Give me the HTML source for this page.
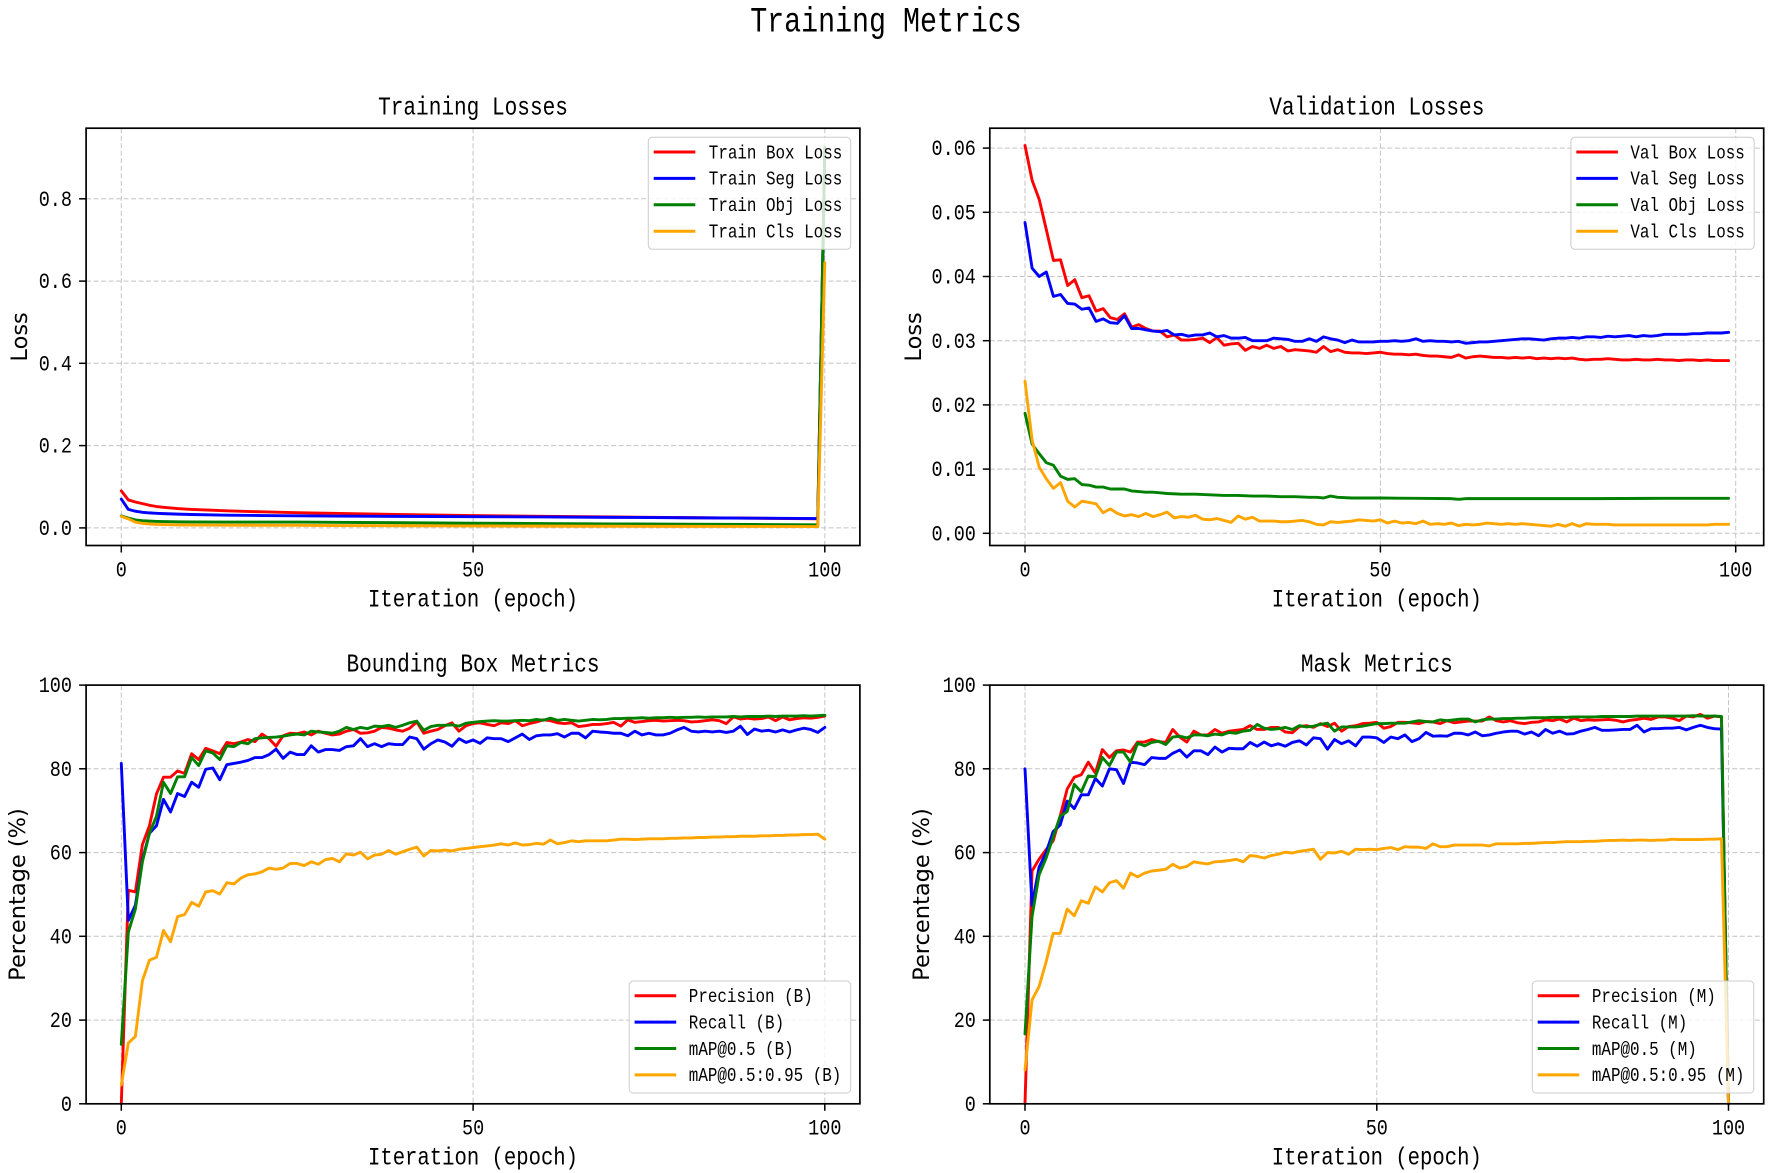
<!DOCTYPE html>
<html><head><meta charset="utf-8"><style>
html,body{margin:0;padding:0;background:#fff;}
svg{display:block;}
.m{font-family:"Liberation Mono","DejaVu Sans Mono",monospace;fill:#000;}
.s{font-family:"DejaVu Sans","Liberation Sans",sans-serif;fill:#000;}
.g{stroke:#c4c4c4;stroke-width:1;stroke-dasharray:5,2.5;fill:none;}
.sp{fill:none;stroke:#000;stroke-width:1.7;}
.tk{stroke:#000;stroke-width:1.5;}
.l{fill:none;stroke-width:2.9;stroke-linejoin:round;stroke-linecap:round;vector-effect:non-scaling-stroke;}
.lg{fill:#fff;fill-opacity:0.8;stroke:#cccccc;stroke-width:1;}
.ll{stroke-width:3;}
</style></head><body>
<svg width="1772" height="1173" viewBox="0 0 1772 1173" xmlns="http://www.w3.org/2000/svg">
<rect width="1772" height="1173" fill="#fff"/>

<text class="m" font-size="28.3" text-anchor="middle" transform="translate(886,31.7) scale(1,1.25)">Training Metrics</text>

<!-- TOP LEFT -->
<g>
<line class="g" x1="121.3" y1="128.2" x2="121.3" y2="545.5"/>
<line class="g" x1="473.1" y1="128.2" x2="473.1" y2="545.5"/>
<line class="g" x1="824.8" y1="128.2" x2="824.8" y2="545.5"/>
<line class="g" x1="86.1" y1="527.9" x2="859.9" y2="527.9"/>
<line class="g" x1="86.1" y1="445.6" x2="859.9" y2="445.6"/>
<line class="g" x1="86.1" y1="363.3" x2="859.9" y2="363.3"/>
<line class="g" x1="86.1" y1="281.1" x2="859.9" y2="281.1"/>
<line class="g" x1="86.1" y1="198.8" x2="859.9" y2="198.8"/>
<g transform="matrix(7.035 0 0 -0.4114 121.3 527.9)">
<polyline class="l" stroke="#ff0000" points="0,90 1,68 2,63 3,59 4,55 5,52 6,50 8,47 10,45 15,41.5 20,39 25,37 30,35.5 40,32.5 50,30 60,28 70,26.5 80,25 90,23.5 99,22 100,915"/>
<polyline class="l" stroke="#0000ff" points="0,70 1,45 2,40.5 3,38 4,36.5 5,35.5 6,34.7 8,33.5 10,32.6 15,31 20,30 25,29.3 30,28.8 40,28 50,27.3 60,26.6 70,25.6 80,24.7 90,23.7 99,22.8 100,915"/>
<polyline class="l" stroke="#008000" points="0,29 1,24 2,19.5 3,17.5 4,16.5 5,15.8 6,15.3 8,14.8 10,14.5 15,14.3 20,14.2 25,14.1 30,13.5 40,12.5 50,11.5 60,10.5 70,9.7 80,9 90,8.3 99,7.5 100,925.5"/>
<polyline class="l" stroke="#ffa500" points="0,28 1,22 2,14 3,11 4,9.5 5,8.5 6,8 8,7.3 10,7 15,6.6 20,6.4 25,6.2 30,5.8 40,5.2 50,4.7 60,4.3 70,4 80,3.7 90,3.5 99,3.3 100,645"/>
</g>
<rect class="sp" x="86.1" y="128.2" width="773.8" height="417.3"/>
<line class="tk" x1="121.3" y1="545.5" x2="121.3" y2="552.5"/>
<line class="tk" x1="473.1" y1="545.5" x2="473.1" y2="552.5"/>
<line class="tk" x1="824.8" y1="545.5" x2="824.8" y2="552.5"/>
<line class="tk" x1="79.1" y1="527.9" x2="86.1" y2="527.9"/>
<line class="tk" x1="79.1" y1="445.6" x2="86.1" y2="445.6"/>
<line class="tk" x1="79.1" y1="363.3" x2="86.1" y2="363.3"/>
<line class="tk" x1="79.1" y1="281.1" x2="86.1" y2="281.1"/>
<line class="tk" x1="79.1" y1="198.8" x2="86.1" y2="198.8"/>
<text class="m" font-size="18.5" text-anchor="end" transform="translate(72,535) scale(1,1.18)">0.0</text>
<text class="m" font-size="18.5" text-anchor="end" transform="translate(72,452.7) scale(1,1.18)">0.2</text>
<text class="m" font-size="18.5" text-anchor="end" transform="translate(72,370.4) scale(1,1.18)">0.4</text>
<text class="m" font-size="18.5" text-anchor="end" transform="translate(72,288.2) scale(1,1.18)">0.6</text>
<text class="m" font-size="18.5" text-anchor="end" transform="translate(72,205.9) scale(1,1.18)">0.8</text>
<text class="m" font-size="18.5" text-anchor="middle" transform="translate(121.3,576.7) scale(1,1.18)">0</text>
<text class="m" font-size="18.5" text-anchor="middle" transform="translate(473.1,576.7) scale(1,1.18)">50</text>
<text class="m" font-size="18.5" text-anchor="middle" transform="translate(824.8,576.7) scale(1,1.18)">100</text>
<text class="m" font-size="21.1" text-anchor="middle" transform="translate(473,114.7) scale(1,1.23)">Training Losses</text>
<text class="m" font-size="20.6" text-anchor="middle" transform="translate(473,606.7) scale(1,1.23)">Iteration (epoch)</text>
<text class="s" font-size="22.5" text-anchor="middle" transform="translate(27,336.9) rotate(-90)">Loss</text>
<rect class="lg" x="648.3" y="137.3" width="202.4" height="112" rx="4" ry="4"/>
<line class="ll" stroke="#ff0000" x1="653.7" y1="152" x2="695.3" y2="152"/>
<line class="ll" stroke="#0000ff" x1="653.7" y1="178.4" x2="695.3" y2="178.4"/>
<line class="ll" stroke="#008000" x1="653.7" y1="204.8" x2="695.3" y2="204.8"/>
<line class="ll" stroke="#ffa500" x1="653.7" y1="231.2" x2="695.3" y2="231.2"/>
<text class="m" font-size="15.9" transform="translate(708.8,158.3) scale(1,1.22)">Train Box Loss</text>
<text class="m" font-size="15.9" transform="translate(708.8,184.7) scale(1,1.22)">Train Seg Loss</text>
<text class="m" font-size="15.9" transform="translate(708.8,211.1) scale(1,1.22)">Train Obj Loss</text>
<text class="m" font-size="15.9" transform="translate(708.8,237.5) scale(1,1.22)">Train Cls Loss</text>
</g>

<!-- TOP RIGHT -->
<g>
<line class="g" x1="1025" y1="128.2" x2="1025" y2="545.5"/>
<line class="g" x1="1380.4" y1="128.2" x2="1380.4" y2="545.5"/>
<line class="g" x1="1735.7" y1="128.2" x2="1735.7" y2="545.5"/>
<line class="g" x1="989.8" y1="533.3" x2="1763.7" y2="533.3"/>
<line class="g" x1="989.8" y1="469.1" x2="1763.7" y2="469.1"/>
<line class="g" x1="989.8" y1="404.9" x2="1763.7" y2="404.9"/>
<line class="g" x1="989.8" y1="340.7" x2="1763.7" y2="340.7"/>
<line class="g" x1="989.8" y1="276.5" x2="1763.7" y2="276.5"/>
<line class="g" x1="989.8" y1="212.3" x2="1763.7" y2="212.3"/>
<line class="g" x1="989.8" y1="148.1" x2="1763.7" y2="148.1"/>
<g transform="matrix(7.107 0 0 -6.42 1025 533.3)">
<polyline class="l" stroke="#ff0000" points="0,60.4 1,55 2,52 3,47.3 4,42.5 5,42.6 6,38.6 7,39.5 8,36.7 9,37 10,34.6 11,35 12,33.6 13,33.3 14,34.2 15,32.1 16,32.5 17,31.9 18,31.5 19,31.5 20,30.6 21,30.9 22,30.1 23,30.1 24,30.2 25,30.4 26,29.7 27,30.5 28,29.3 29,29.5 30,29.6 31,28.5 32,29.1 33,28.8 34,29.3 35,28.8 36,29.1 37,28.4 38,28.6 39,28.5 40,28.4 41,28.2 42,29.1 43,28.3 44,28.6 45,28.2 46,28.1 47,28.1 48,28 49,28.1 50,28.2 51,28 52,27.9 53,27.9 54,27.8 55,27.9 56,27.7 57,27.6 58,27.6 59,27.5 60,27.4 61,27.8 62,27.3 63,27.5 64,27.6 65,27.5 66,27.4 67,27.4 68,27.3 69,27.4 70,27.3 71,27.4 72,27.2 73,27.3 74,27.2 75,27.3 76,27.2 77,27.3 78,27.1 79,27 80,27.1 81,27.1 82,27.2 83,27.1 84,27 85,27 86,27.1 87,27 88,27 89,27.1 90,27 91,27 92,26.9 93,27 94,27 95,26.9 96,27 97,26.9 98,26.9 99,26.9"/>
<polyline class="l" stroke="#0000ff" points="0,48.4 1,41.3 2,40 3,40.7 4,36.9 5,37.2 6,35.8 7,35.7 8,34.9 9,35.1 10,33 11,33.4 12,32.8 13,32.7 14,33.9 15,31.9 16,31.9 17,31.7 18,31.5 19,31.4 20,31.6 21,30.9 22,31 23,30.7 24,30.9 25,30.9 26,31.2 27,30.6 28,30.8 29,30.4 30,30.4 31,30.5 32,30 33,30 34,30 35,30.4 36,30.3 37,30.2 38,29.9 39,29.9 40,30.3 41,29.9 42,30.6 43,30.3 44,30.1 45,29.7 46,30.1 47,29.8 48,29.8 49,29.8 50,29.9 51,29.9 52,30 53,29.9 54,30 55,30.3 56,29.9 57,30 58,29.9 59,29.9 60,29.8 61,29.9 62,29.6 63,29.7 64,29.8 65,29.8 66,29.9 67,30 68,30.1 69,30.2 70,30.3 71,30.3 72,30.2 73,30.1 74,30.3 75,30.4 76,30.4 77,30.5 78,30.4 79,30.6 80,30.6 81,30.5 82,30.7 83,30.6 84,30.7 85,30.8 86,30.6 87,30.8 88,30.7 89,30.8 90,31 91,31 92,31 93,31 94,31.1 95,31.1 96,31.2 97,31.2 98,31.2 99,31.3"/>
<polyline class="l" stroke="#008000" points="0,18.7 1,13.9 2,12.4 3,11 4,10.6 5,8.9 6,8.4 7,8.5 8,7.6 9,7.5 10,7.2 11,7.2 12,6.9 13,6.9 14,6.9 15,6.6 16,6.5 17,6.4 18,6.4 19,6.3 20,6.2 22,6.1 24,6.1 26,6 28,5.9 30,5.9 32,5.8 34,5.8 36,5.7 38,5.7 40,5.6 41,5.6 42,5.5 43,5.8 44,5.6 46,5.5 50,5.5 55,5.45 60,5.4 61,5.3 62,5.4 70,5.4 80,5.4 90,5.45 99,5.45"/>
<polyline class="l" stroke="#ffa500" points="0,23.7 1,14.5 2,10.3 3,8.5 4,7 5,7.9 6,5 7,4.1 8,5 9,4.8 10,4.6 11,3.2 12,3.8 13,3.1 14,2.7 15,2.9 16,2.6 17,3.1 18,2.6 19,2.9 20,3.3 21,2.4 22,2.6 23,2.5 24,2.8 25,2.2 26,2.1 27,2.3 28,2 29,1.7 30,2.7 31,2.2 32,2.5 33,1.9 34,1.9 35,1.9 36,1.8 37,1.8 38,1.9 39,2 40,1.8 41,1.4 42,1.3 43,1.8 44,1.7 45,1.8 46,1.9 47,2.1 48,2 49,1.9 50,2.1 51,1.6 52,1.9 53,1.6 54,1.7 55,1.5 56,1.9 57,1.4 58,1.5 59,1.4 60,1.6 61,1.2 62,1.4 63,1.3 64,1.4 65,1.6 66,1.5 67,1.4 68,1.5 69,1.4 70,1.5 71,1.4 72,1.3 73,1.2 74,1.1 75,1.4 76,1.1 77,1.5 78,1.1 79,1.5 80,1.4 81,1.4 82,1.4 83,1.3 84,1.3 85,1.3 86,1.3 87,1.3 88,1.3 89,1.3 90,1.3 91,1.3 92,1.3 93,1.3 94,1.3 95,1.3 96,1.3 97,1.4 98,1.4 99,1.4"/>
</g>
<rect class="sp" x="989.8" y="128.2" width="773.9" height="417.3"/>
<line class="tk" x1="1025" y1="545.5" x2="1025" y2="552.5"/>
<line class="tk" x1="1380.4" y1="545.5" x2="1380.4" y2="552.5"/>
<line class="tk" x1="1735.7" y1="545.5" x2="1735.7" y2="552.5"/>
<line class="tk" x1="982.8" y1="533.3" x2="989.8" y2="533.3"/>
<line class="tk" x1="982.8" y1="469.1" x2="989.8" y2="469.1"/>
<line class="tk" x1="982.8" y1="404.9" x2="989.8" y2="404.9"/>
<line class="tk" x1="982.8" y1="340.7" x2="989.8" y2="340.7"/>
<line class="tk" x1="982.8" y1="276.5" x2="989.8" y2="276.5"/>
<line class="tk" x1="982.8" y1="212.3" x2="989.8" y2="212.3"/>
<line class="tk" x1="982.8" y1="148.1" x2="989.8" y2="148.1"/>
<text class="m" font-size="18.5" text-anchor="end" transform="translate(975.9,540.4) scale(1,1.18)">0.00</text>
<text class="m" font-size="18.5" text-anchor="end" transform="translate(975.9,476.2) scale(1,1.18)">0.01</text>
<text class="m" font-size="18.5" text-anchor="end" transform="translate(975.9,412) scale(1,1.18)">0.02</text>
<text class="m" font-size="18.5" text-anchor="end" transform="translate(975.9,347.8) scale(1,1.18)">0.03</text>
<text class="m" font-size="18.5" text-anchor="end" transform="translate(975.9,283.6) scale(1,1.18)">0.04</text>
<text class="m" font-size="18.5" text-anchor="end" transform="translate(975.9,219.4) scale(1,1.18)">0.05</text>
<text class="m" font-size="18.5" text-anchor="end" transform="translate(975.9,155.2) scale(1,1.18)">0.06</text>
<text class="m" font-size="18.5" text-anchor="middle" transform="translate(1025,576.7) scale(1,1.18)">0</text>
<text class="m" font-size="18.5" text-anchor="middle" transform="translate(1380.4,576.7) scale(1,1.18)">50</text>
<text class="m" font-size="18.5" text-anchor="middle" transform="translate(1735.7,576.7) scale(1,1.18)">100</text>
<text class="m" font-size="21.1" text-anchor="middle" transform="translate(1376.8,114.7) scale(1,1.23)">Validation Losses</text>
<text class="m" font-size="20.6" text-anchor="middle" transform="translate(1376.8,606.7) scale(1,1.23)">Iteration (epoch)</text>
<text class="s" font-size="22.5" text-anchor="middle" transform="translate(921,336.9) rotate(-90)">Loss</text>
<rect class="lg" x="1570.9" y="137.3" width="183.3" height="112" rx="4" ry="4"/>
<line class="ll" stroke="#ff0000" x1="1576.3" y1="152" x2="1617.9" y2="152"/>
<line class="ll" stroke="#0000ff" x1="1576.3" y1="178.4" x2="1617.9" y2="178.4"/>
<line class="ll" stroke="#008000" x1="1576.3" y1="204.8" x2="1617.9" y2="204.8"/>
<line class="ll" stroke="#ffa500" x1="1576.3" y1="231.2" x2="1617.9" y2="231.2"/>
<text class="m" font-size="15.9" transform="translate(1630.4,158.3) scale(1,1.22)">Val Box Loss</text>
<text class="m" font-size="15.9" transform="translate(1630.4,184.7) scale(1,1.22)">Val Seg Loss</text>
<text class="m" font-size="15.9" transform="translate(1630.4,211.1) scale(1,1.22)">Val Obj Loss</text>
<text class="m" font-size="15.9" transform="translate(1630.4,237.5) scale(1,1.22)">Val Cls Loss</text>
</g>

<!-- BOTTOM LEFT -->
<g>
<line class="g" x1="121.3" y1="685.1" x2="121.3" y2="1103.8"/>
<line class="g" x1="473.1" y1="685.1" x2="473.1" y2="1103.8"/>
<line class="g" x1="824.8" y1="685.1" x2="824.8" y2="1103.8"/>
<line class="g" x1="86.1" y1="1020.1" x2="859.9" y2="1020.1"/>
<line class="g" x1="86.1" y1="936.3" x2="859.9" y2="936.3"/>
<line class="g" x1="86.1" y1="852.6" x2="859.9" y2="852.6"/>
<line class="g" x1="86.1" y1="768.8" x2="859.9" y2="768.8"/>
<g transform="matrix(7.035 0 0 -4.187 121.3 1103.8)">
<polyline class="l" stroke="#ff0000" points="0,0 1,51 2,50.6 3,61.9 4,66.4 5,74 6,78 7,78 8,79.5 9,78.9 10,83.6 11,82.2 12,84.9 13,84.3 14,83.6 15,86.3 16,86 17,86.4 18,87 19,86.5 20,88.3 21,87.2 22,85.4 23,87.9 24,88.5 25,88.4 26,88.8 27,88.1 28,89 29,88.5 30,88.1 31,88.3 32,89 33,89.4 34,88.5 35,88.6 36,89 37,89.9 38,89.7 39,89.3 40,89 41,89.7 42,91.2 43,88.5 44,89 45,89.4 46,90.3 47,91 48,89 49,90.3 50,90.8 51,91 52,90.6 53,90.3 54,91 55,90.8 56,91.5 57,90.3 58,90.8 59,91.2 60,91.7 61,91.5 62,91 63,90.8 64,91 65,90.1 66,90.3 67,90.6 68,90.6 69,90.8 70,91.1 71,90.2 72,91.7 73,91.1 74,91.3 75,91.5 76,91.6 77,91.4 78,91.5 79,91.6 80,91.5 81,91.2 82,91.3 83,91.5 84,91.7 85,91.5 86,90.8 87,92.4 88,91.9 89,92.1 90,91.9 91,92 92,92.4 93,91.5 94,92.4 95,91.7 96,92 97,92.2 98,92.1 99,92.3 100,92.6"/>
<polyline class="l" stroke="#0000ff" points="0,81.3 1,43.8 2,47.4 3,58.3 4,64.6 5,66.4 6,72.7 7,69.7 8,74.1 9,73.4 10,76.8 11,75.6 12,79.9 13,80.2 14,77.4 15,81 16,81.3 17,81.6 18,82 19,82.7 20,82.7 21,83.4 22,84.7 23,82.5 24,84 25,83.4 26,83.4 27,85.5 28,84 29,84.6 30,84.6 31,84.4 32,85.3 33,85.5 34,87.2 35,85.3 36,86 37,85.3 38,86 39,85.8 40,85.8 41,87.6 42,87.2 43,84.7 44,86 45,86.9 46,86.4 47,85.4 48,87.2 49,86.3 50,86.9 51,86.1 52,87.4 53,87.2 54,87.2 55,86.5 56,87.4 57,88.3 58,87 59,87.9 60,88.1 61,88.1 62,88.4 63,87.6 64,88.5 65,88.5 66,87.4 67,89 68,88.8 69,88.7 70,88.5 71,88.5 72,87.9 73,89 74,88.1 75,88.5 76,88.1 77,88.1 78,88.5 79,89.3 80,89.9 81,89 82,88.8 83,89 84,88.8 85,89 86,88.7 87,89 88,90.2 89,88.2 90,89.5 91,89 92,89.2 93,88.8 94,89.3 95,88.8 96,89.3 97,89.7 98,89.4 99,88.7 100,89.9"/>
<polyline class="l" stroke="#008000" points="0,14.2 1,41 2,46.5 3,57.8 4,64.6 5,68.7 6,76.8 7,74.1 8,78.1 9,78.1 10,82.7 11,80.8 12,84.3 13,83.8 14,82.2 15,85.5 16,85.3 17,86.3 18,86 19,87.2 20,87.4 21,87.5 22,87.6 23,87.8 24,88.1 25,88.3 26,88.1 27,89 28,88.8 29,88.7 30,88.5 31,89 32,89.9 33,89.4 34,89.9 35,89.6 36,90.2 37,90.1 38,90.4 39,89.9 40,90.4 41,91 42,91.4 43,89.2 44,90.1 45,90.4 46,90.4 47,90.5 48,90.2 49,90.9 50,91.1 51,91.3 52,91.4 53,91.5 54,91.4 55,91.4 56,91.5 57,91.6 58,91.5 59,91.8 60,91.6 61,92.1 62,91.6 63,91.8 64,91.6 65,91.4 66,91.6 67,91.8 68,91.7 69,91.8 70,92 71,92 72,92.1 73,92.1 74,92.2 75,92.1 76,92.2 77,92.2 78,92.3 79,92.2 80,92.3 81,92.3 82,92.4 83,92.3 84,92.4 85,92.4 86,92.4 87,92.5 88,92.4 89,92.5 90,92.5 91,92.5 92,92.6 93,92.5 94,92.6 95,92.6 96,92.6 97,92.7 98,92.6 99,92.7 100,92.8"/>
<polyline class="l" stroke="#ffa500" points="0,4.5 1,14.5 2,16.1 3,29.4 4,34.3 5,35 6,41.4 7,38.7 8,44.7 9,45.2 10,48.1 11,47.2 12,50.6 13,50.9 14,50.1 15,52.8 16,52.5 17,53.9 18,54.7 19,54.9 20,55.4 21,56.3 22,56 23,56.3 24,57.4 25,57.4 26,56.9 27,57.8 28,57.2 29,58.3 30,58.6 31,57.8 32,59.7 33,59.4 34,60.1 35,58.5 36,59.4 37,59.6 38,60.5 39,59.6 40,60.2 41,60.8 42,61.3 43,59.2 44,60.5 45,60.4 46,60.6 47,60.4 48,60.8 49,61 50,61.2 51,61.4 52,61.6 53,61.8 54,62.1 55,61.8 56,62.3 57,61.8 58,61.9 59,62.2 60,62 61,63 62,62.1 63,62.4 64,62.8 65,62.6 66,62.8 67,62.8 68,62.8 69,62.8 70,63 71,63.2 72,63.2 73,63.1 74,63.2 75,63.3 76,63.3 77,63.3 78,63.4 79,63.4 80,63.5 81,63.5 82,63.6 83,63.6 84,63.7 85,63.7 86,63.8 87,63.8 88,63.9 89,63.9 90,63.9 91,64 92,64 93,64.1 94,64.1 95,64.2 96,64.2 97,64.3 98,64.3 99,64.4 100,63.2"/>
</g>
<rect class="sp" x="86.1" y="685.1" width="773.8" height="418.7"/>
<line class="tk" x1="121.3" y1="1103.8" x2="121.3" y2="1110.8"/>
<line class="tk" x1="473.1" y1="1103.8" x2="473.1" y2="1110.8"/>
<line class="tk" x1="824.8" y1="1103.8" x2="824.8" y2="1110.8"/>
<line class="tk" x1="79.1" y1="1103.8" x2="86.1" y2="1103.8"/>
<line class="tk" x1="79.1" y1="1020.1" x2="86.1" y2="1020.1"/>
<line class="tk" x1="79.1" y1="936.3" x2="86.1" y2="936.3"/>
<line class="tk" x1="79.1" y1="852.6" x2="86.1" y2="852.6"/>
<line class="tk" x1="79.1" y1="768.8" x2="86.1" y2="768.8"/>
<line class="tk" x1="79.1" y1="685.1" x2="86.1" y2="685.1"/>
<text class="m" font-size="18.5" text-anchor="end" transform="translate(72,1110.9) scale(1,1.18)">0</text>
<text class="m" font-size="18.5" text-anchor="end" transform="translate(72,1027.2) scale(1,1.18)">20</text>
<text class="m" font-size="18.5" text-anchor="end" transform="translate(72,943.4) scale(1,1.18)">40</text>
<text class="m" font-size="18.5" text-anchor="end" transform="translate(72,859.7) scale(1,1.18)">60</text>
<text class="m" font-size="18.5" text-anchor="end" transform="translate(72,775.9) scale(1,1.18)">80</text>
<text class="m" font-size="18.5" text-anchor="end" transform="translate(72,692.2) scale(1,1.18)">100</text>
<text class="m" font-size="18.5" text-anchor="middle" transform="translate(121.3,1134.5) scale(1,1.18)">0</text>
<text class="m" font-size="18.5" text-anchor="middle" transform="translate(473.1,1134.5) scale(1,1.18)">50</text>
<text class="m" font-size="18.5" text-anchor="middle" transform="translate(824.8,1134.5) scale(1,1.18)">100</text>
<text class="m" font-size="21.1" text-anchor="middle" transform="translate(473,671.5) scale(1,1.23)">Bounding Box Metrics</text>
<text class="m" font-size="20.6" text-anchor="middle" transform="translate(473,1164.4) scale(1,1.23)">Iteration (epoch)</text>
<text class="s" font-size="22.5" text-anchor="middle" transform="translate(25,894.5) rotate(-90)">Percentage (%)</text>
<rect class="lg" x="629.2" y="981" width="221.5" height="112" rx="4" ry="4"/>
<line class="ll" stroke="#ff0000" x1="634.6" y1="995.7" x2="676.2" y2="995.7"/>
<line class="ll" stroke="#0000ff" x1="634.6" y1="1022.1" x2="676.2" y2="1022.1"/>
<line class="ll" stroke="#008000" x1="634.6" y1="1048.5" x2="676.2" y2="1048.5"/>
<line class="ll" stroke="#ffa500" x1="634.6" y1="1074.9" x2="676.2" y2="1074.9"/>
<text class="m" font-size="15.9" transform="translate(688.8,1002) scale(1,1.22)">Precision (B)</text>
<text class="m" font-size="15.9" transform="translate(688.8,1028.4) scale(1,1.22)">Recall (B)</text>
<text class="m" font-size="15.9" transform="translate(688.8,1054.8) scale(1,1.22)">mAP@0.5 (B)</text>
<text class="m" font-size="15.9" transform="translate(688.8,1081.2) scale(1,1.22)">mAP@0.5:0.95 (B)</text>
</g>

<!-- BOTTOM RIGHT -->
<g>
<line class="g" x1="1025" y1="685.1" x2="1025" y2="1103.8"/>
<line class="g" x1="1376.8" y1="685.1" x2="1376.8" y2="1103.8"/>
<line class="g" x1="1728.5" y1="685.1" x2="1728.5" y2="1103.8"/>
<line class="g" x1="989.8" y1="1020.1" x2="1763.7" y2="1020.1"/>
<line class="g" x1="989.8" y1="936.3" x2="1763.7" y2="936.3"/>
<line class="g" x1="989.8" y1="852.6" x2="1763.7" y2="852.6"/>
<line class="g" x1="989.8" y1="768.8" x2="1763.7" y2="768.8"/>
<g transform="matrix(7.035 0 0 -4.187 1025 1103.8)">
<polyline class="l" stroke="#ff0000" points="0,0 1,55.6 2,58.4 3,60.7 4,62.8 5,68.7 6,75.2 7,78 8,78.6 9,81.6 10,79 11,84.6 12,82.7 13,84.3 14,84.5 15,84 16,86.4 17,86.4 18,87 19,86.5 20,86.3 21,89.4 22,87.6 23,86.4 24,89 25,88.1 26,88.1 27,89.4 28,88.5 29,89 30,89.2 31,89.4 32,90.3 33,89.4 34,89.4 35,89.9 36,89.9 37,88.8 38,88.6 39,90.1 40,90.3 41,89.9 42,90.8 43,90.1 44,90.9 45,89 46,90.1 47,90.3 48,90.8 49,90.9 50,91.1 51,89.7 52,90.1 53,91.1 54,91.1 55,91 56,90.8 57,91.3 58,91.2 59,90.8 60,91.5 61,91 62,91.2 63,91.4 64,91.4 65,91.4 66,92.4 67,91.5 68,91.2 69,91.5 70,91 71,90.8 72,91.1 73,91.2 74,91.7 75,91.5 76,91.9 77,91.2 78,92.1 79,91.5 80,91.7 81,91.6 82,91.7 83,91.8 84,91.6 85,91.2 86,91.6 87,91.8 88,92.1 89,91.8 90,92.4 91,92.4 92,92.1 93,91.5 94,92.6 95,92.4 96,93 97,92.1 98,92.6 99,92.4 100,0"/>
<polyline class="l" stroke="#0000ff" points="0,80 1,47.4 2,56.5 3,60 4,65 5,66.6 6,72.3 7,70.5 8,73.8 9,73.8 10,77.7 11,75.9 12,80 13,79.8 14,76.5 15,81.6 16,81.4 17,81 18,82.7 19,82.5 20,82.5 21,83.7 22,84.5 23,82.8 24,84.3 25,84.3 26,83.4 27,85.2 28,84 29,84.9 30,84.8 31,84.8 32,86.3 33,85.4 34,86.4 35,85.5 36,86 37,85.4 38,86.3 39,86.7 40,85.7 41,87.4 42,87.2 43,84.7 44,87 45,86 46,86.7 47,85.5 48,87.6 49,87.6 50,87.4 51,86.3 52,87.6 53,87.2 54,88.1 55,86.5 56,87.2 57,88.7 58,87.8 59,87.9 60,87.8 61,88.5 62,88.5 63,88.1 64,88.8 65,87.9 66,88.1 67,88.5 68,88.8 69,89 70,89 71,88.3 72,88.8 73,87.9 74,89.4 75,88.5 76,89 77,88.3 78,88.4 79,89 80,89.4 81,89.9 82,89.2 83,89.2 84,89.3 85,89.4 86,89.4 87,90.4 88,88.8 89,89.6 90,89.6 91,89.7 92,89.7 93,89.9 94,89.3 95,89.9 96,90.4 97,89.9 98,89.6 99,89.5 100,0"/>
<polyline class="l" stroke="#008000" points="0,16.7 1,44.7 2,54.7 3,58.7 4,63.7 5,68.7 6,69.8 7,76.3 8,74.5 9,78.3 10,78.1 11,82.7 12,80.8 13,84 14,84 15,81.6 16,86.1 17,85.5 18,86.3 19,86.6 20,85.8 21,87.6 22,87.8 23,87.4 24,88.1 25,88.1 26,87.9 27,88.3 28,88.1 29,88.7 30,88.5 31,89 32,89.2 33,90.6 34,89.7 35,89.4 36,89.6 37,89.9 38,89.4 39,90.3 40,90 41,90.2 42,90.6 43,90.9 44,89 45,90 46,90 47,90 48,90.2 49,90.5 50,90.8 51,90.8 52,90.9 53,90.9 54,90.9 55,91.2 56,91.5 57,91.3 58,91.2 59,91.7 60,91.5 61,91.7 62,91.9 63,91.9 64,91.2 65,91.7 66,91.9 67,91.9 68,92 69,92 70,92.1 71,92.1 72,92.2 73,92.2 74,92.2 75,92.3 76,92.3 77,92.3 78,92.4 79,92.4 80,92.4 81,92.4 82,92.5 83,92.5 84,92.5 85,92.5 86,92.5 87,92.6 88,92.6 89,92.6 90,92.6 91,92.6 92,92.6 93,92.6 94,92.6 95,92.7 96,92.6 97,92.6 98,92.6 99,92.5 100,0"/>
<polyline class="l" stroke="#ffa500" points="0,8.1 1,24.8 2,28 3,33.9 4,40.7 5,40.7 6,46.5 7,44.9 8,48.5 9,47.9 10,51.8 11,50.6 12,52.8 13,53.3 14,51.5 15,55.1 16,54.2 17,55.1 18,55.6 19,55.8 20,56 21,57.2 22,56.3 23,56.7 24,57.8 25,57.5 26,57.3 27,57.8 28,57.9 29,58.1 30,58.4 31,57.8 32,59.3 33,59.1 34,58.7 35,59.3 36,59.6 37,60.1 38,59.9 39,60.3 40,60.5 41,60.8 42,58.4 43,60 44,59.9 45,60.3 46,59.6 47,60.8 48,60.7 49,60.8 50,60.7 51,61 52,61.2 53,60.7 54,61.4 55,61.3 56,61.3 57,61 58,62.1 59,61.4 60,61.4 61,61.8 62,61.8 63,61.8 64,61.8 65,61.8 66,61.6 67,62.1 68,62.1 69,62.1 70,62.1 71,62.2 72,62.2 73,62.3 74,62.4 75,62.4 76,62.5 77,62.6 78,62.6 79,62.6 80,62.7 81,62.7 82,62.8 83,62.9 84,62.9 85,63 86,62.9 87,63 88,63 89,62.9 90,63 91,63 92,63.2 93,63.1 94,63.1 95,63.1 96,63.1 97,63.2 98,63.2 99,63.3 100,0"/>
</g>
<rect class="sp" x="989.8" y="685.1" width="773.9" height="418.7"/>
<line class="tk" x1="1025" y1="1103.8" x2="1025" y2="1110.8"/>
<line class="tk" x1="1376.8" y1="1103.8" x2="1376.8" y2="1110.8"/>
<line class="tk" x1="1728.5" y1="1103.8" x2="1728.5" y2="1110.8"/>
<line class="tk" x1="982.8" y1="1103.8" x2="989.8" y2="1103.8"/>
<line class="tk" x1="982.8" y1="1020.1" x2="989.8" y2="1020.1"/>
<line class="tk" x1="982.8" y1="936.3" x2="989.8" y2="936.3"/>
<line class="tk" x1="982.8" y1="852.6" x2="989.8" y2="852.6"/>
<line class="tk" x1="982.8" y1="768.8" x2="989.8" y2="768.8"/>
<line class="tk" x1="982.8" y1="685.1" x2="989.8" y2="685.1"/>
<text class="m" font-size="18.5" text-anchor="end" transform="translate(975.9,1110.9) scale(1,1.18)">0</text>
<text class="m" font-size="18.5" text-anchor="end" transform="translate(975.9,1027.2) scale(1,1.18)">20</text>
<text class="m" font-size="18.5" text-anchor="end" transform="translate(975.9,943.4) scale(1,1.18)">40</text>
<text class="m" font-size="18.5" text-anchor="end" transform="translate(975.9,859.7) scale(1,1.18)">60</text>
<text class="m" font-size="18.5" text-anchor="end" transform="translate(975.9,775.9) scale(1,1.18)">80</text>
<text class="m" font-size="18.5" text-anchor="end" transform="translate(975.9,692.2) scale(1,1.18)">100</text>
<text class="m" font-size="18.5" text-anchor="middle" transform="translate(1025,1134.5) scale(1,1.18)">0</text>
<text class="m" font-size="18.5" text-anchor="middle" transform="translate(1376.8,1134.5) scale(1,1.18)">50</text>
<text class="m" font-size="18.5" text-anchor="middle" transform="translate(1728.5,1134.5) scale(1,1.18)">100</text>
<text class="m" font-size="21.1" text-anchor="middle" transform="translate(1376.8,671.5) scale(1,1.23)">Mask Metrics</text>
<text class="m" font-size="20.6" text-anchor="middle" transform="translate(1376.8,1164.4) scale(1,1.23)">Iteration (epoch)</text>
<text class="s" font-size="22.5" text-anchor="middle" transform="translate(929,894.5) rotate(-90)">Percentage (%)</text>
<rect class="lg" x="1532.3" y="981" width="221.5" height="112" rx="4" ry="4"/>
<line class="ll" stroke="#ff0000" x1="1537.7" y1="995.7" x2="1579.3" y2="995.7"/>
<line class="ll" stroke="#0000ff" x1="1537.7" y1="1022.1" x2="1579.3" y2="1022.1"/>
<line class="ll" stroke="#008000" x1="1537.7" y1="1048.5" x2="1579.3" y2="1048.5"/>
<line class="ll" stroke="#ffa500" x1="1537.7" y1="1074.9" x2="1579.3" y2="1074.9"/>
<text class="m" font-size="15.9" transform="translate(1591.9,1002) scale(1,1.22)">Precision (M)</text>
<text class="m" font-size="15.9" transform="translate(1591.9,1028.4) scale(1,1.22)">Recall (M)</text>
<text class="m" font-size="15.9" transform="translate(1591.9,1054.8) scale(1,1.22)">mAP@0.5 (M)</text>
<text class="m" font-size="15.9" transform="translate(1591.9,1081.2) scale(1,1.22)">mAP@0.5:0.95 (M)</text>
</g>
</svg>
</body></html>
